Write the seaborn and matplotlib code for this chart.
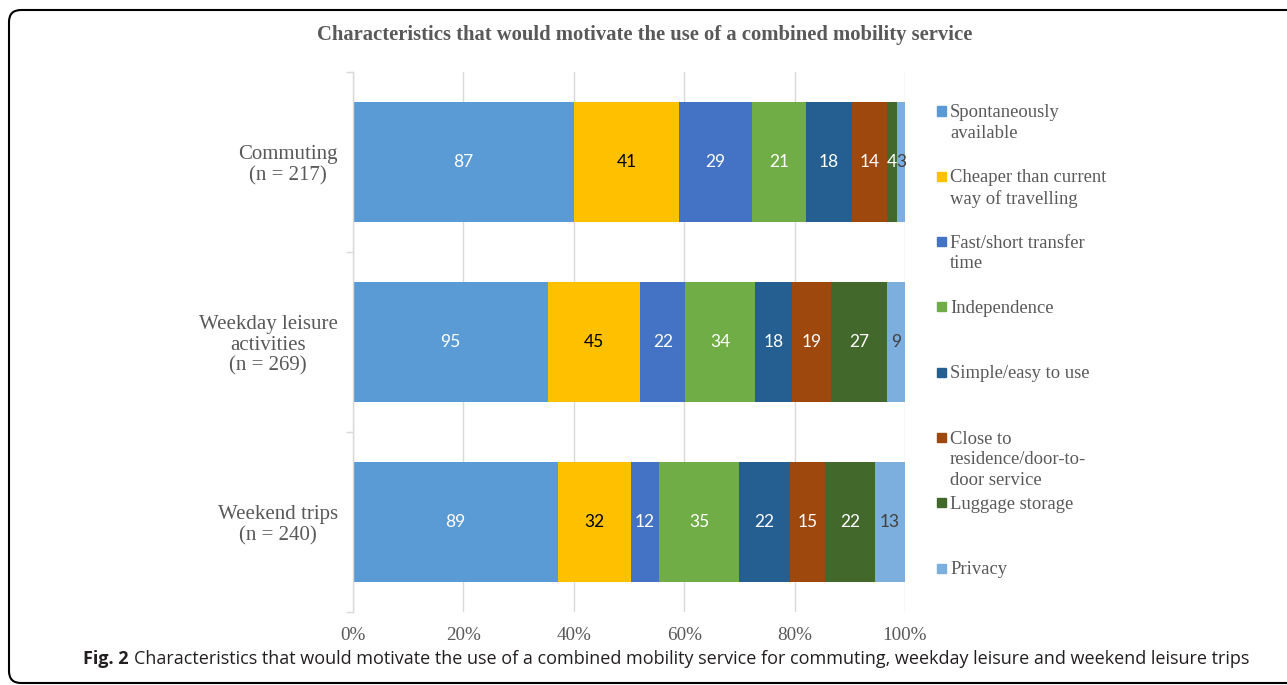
import matplotlib
matplotlib.use("Agg")
import pandas as pd
import matplotlib.pyplot as plt
import seaborn as sns
from matplotlib.patches import Rectangle, PathPatch
from matplotlib.path import Path
from matplotlib.ticker import FixedLocator, FuncFormatter

# Dados do gráfico
trips = ["Commuting\n(n = 217)", "Weekday leisure\nactivities\n(n = 269)", "Weekend trips\n(n = 240)"]
characteristics = ["Spontaneously\navailable", "Cheaper than current\nway of travelling",
                   "Fast/short transfer\ntime", "Independence", "Simple/easy to use",
                   "Close to\nresidence/door-to-\ndoor service", "Luggage storage", "Privacy"]
commuting = [87, 41, 29, 21, 18, 14, 4, 3]
weekday = [95, 45, 22, 34, 18, 19, 27, 9]
weekend = [89, 32, 12, 35, 22, 15, 22, 13]
x_ticks = [0, 20, 40, 60, 80, 100]

colors = ["#5B9BD5", "#FFC000", "#4472C4", "#70AD47", "#255E91", "#9E480E", "#43682B", "#7CAFDD"]
label_colors = ["white", "black", "white", "white", "white", "white", "white", "#404040"]
gray = "#595959"

# Montando DataFrame em formato longo
rows = []
for trip, counts in zip(trips, [commuting, weekday, weekend]):
    total = sum(counts)
    cum = 0
    for c, n in zip(characteristics, counts):
        share = n / total * 100
        rows.append({"trip": trip, "char": c, "count": n, "left": cum, "share": share, "cum": cum + share})
        cum += share
df = pd.DataFrame(rows)

sns.set_style("white")
plt.rcParams["font.family"] = ["Liberation Serif", "DejaVu Serif"]

W, H = 1287, 685
fig = plt.figure(figsize=(W / 100, H / 100), dpi=100)
ax = fig.add_axes([353 / W, 1 - 612 / H, 552 / W, 540 / H])

# Barras empilhadas: desenha o acumulado do maior para o menor
for i in reversed(range(len(characteristics))):
    sub = df[df["char"] == characteristics[i]]
    sns.barplot(data=sub, x="cum", y="trip", order=trips, color=colors[i], saturation=1,
                width=0.667, linewidth=0, errorbar=None, orient="h", ax=ax)

# Rótulos dos segmentos
for j, trip in enumerate(trips):
    sub = df[df["trip"] == trip]
    for i, (_, r) in enumerate(sub.iterrows()):
        ax.text(r["left"] + r["share"] / 2, j, str(r["count"]), ha="center", va="center",
                color=label_colors[i], fontsize=12.5, family=["Lato", "DejaVu Sans"])

ax.set_xlim(0, 100)
ax.set_ylim(2.5, -0.5)
ax.set_xlabel("")
ax.set_ylabel("")
ax.xaxis.set_major_locator(FixedLocator(x_ticks))
ax.xaxis.set_major_formatter(FuncFormatter(lambda v, p: f"{int(v)}%"))
ax.grid(axis="x", color="#D9D9D9", linewidth=1)
ax.set_axisbelow(True)
for s in ["top", "right", "bottom"]:
    ax.spines[s].set_visible(False)
ax.spines["left"].set_color("#D9D9D9")
ax.spines["left"].set_linewidth(1)

ax.tick_params(axis="x", length=0, pad=11, labelsize=13.8, labelcolor=gray)
ax.tick_params(axis="y", which="major", length=0, pad=11, labelsize=15, labelcolor=gray)
ax.yaxis.set_minor_locator(FixedLocator([-0.5, 0.5, 1.5, 2.5]))
ax.tick_params(axis="y", which="minor", length=5, width=1, color="#D9D9D9", left=True)
for lbl in ax.get_yticklabels():
    lbl.set_multialignment("center")
    lbl.set_linespacing(1.12)

# Título
fig.text(645 / W, 1 - 35 / H, "Characteristics that would motivate the use of a combined mobility service",
         ha="center", va="center", fontsize=14.9, fontweight="bold", color=gray)

# Legenda manual (estilo Excel)
for k, (name, col) in enumerate(zip(characteristics, colors)):
    yc = 111 + k * 65.3
    fig.patches.append(Rectangle((937 / W, 1 - (yc + 4.5) / H), 9 / W, 9 / H,
                                 transform=fig.transFigure, color=col))
    fig.text(950 / W, 1 - (yc - 7) / H, name, ha="left", va="top", fontsize=13.4,
             color=gray, linespacing=1.3)

# Legenda da figura
t1 = fig.text(83 / W, 1 - 664 / H, "Fig. 2", ha="left", va="baseline", fontsize=13,
              fontweight="bold", family=["Open Sans", "DejaVu Sans"], color="#231F20")
fig.canvas.draw()
bb = t1.get_window_extent()
fig.text((bb.x1 + 5) / W, 1 - 664 / H,
         "Characteristics that would motivate the use of a combined mobility service for commuting, weekday leisure and weekend leisure trips",
         ha="left", va="baseline", fontsize=13, family=["Open Sans", "DejaVu Sans"], color="#231F20")

# Moldura arredondada aberta à direita (em pixels)
x0, yb, yt, r = 9, 2, H - 10, 12
verts = [(W + 20, yt), (x0 + r, yt), (x0, yt), (x0, yt - r), (x0, yb + r), (x0, yb), (x0 + r, yb), (W + 20, yb)]
codes = [Path.MOVETO, Path.LINETO, Path.CURVE3, Path.CURVE3, Path.LINETO, Path.CURVE3, Path.CURVE3, Path.LINETO]
border = PathPatch(Path([(vx / W, vy / H) for vx, vy in verts], codes), transform=fig.transFigure,
                   fill=False, edgecolor="black", linewidth=1.5)
fig.patches.append(border)

plt.savefig("out.png", dpi=100)
